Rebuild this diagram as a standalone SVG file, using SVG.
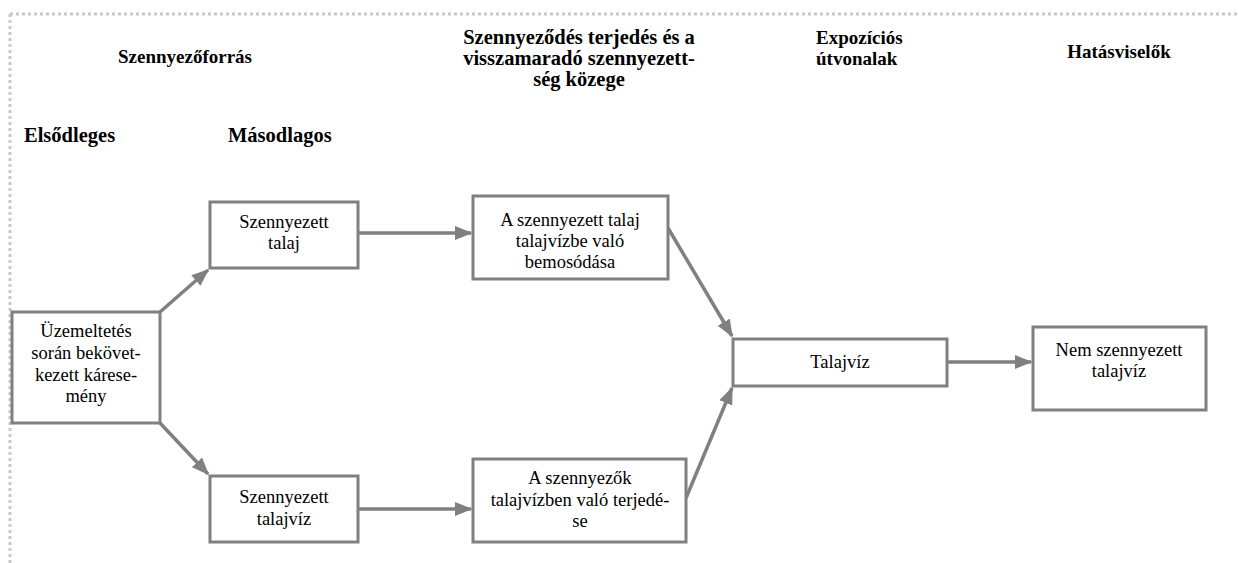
<svg xmlns="http://www.w3.org/2000/svg" width="1239" height="563" viewBox="0 0 1239 563">
<style>
text{font-family:'Liberation Serif','Times New Roman',Times,'DejaVu Serif',serif}
.h{font-size:19px;font-weight:bold;fill:#000}
.hl{font-size:20.5px}
.t{font-size:18.5px;fill:#000;text-anchor:middle}
.box{fill:#fff;stroke:#808080;stroke-width:3}
.c{stroke:#808080;stroke-width:3.5;fill:none}
</style>
<defs>
<marker id="ah" markerWidth="5" markerHeight="4" refX="4.6" refY="2" orient="auto" markerUnits="strokeWidth">
<path d="M0,0 L5,2 L0,4 Z" fill="#808080"/>
</marker>
</defs>
<rect width="1239" height="563" fill="#fff"/>
<path d="M10,14 H1239 M10,14 V563" stroke="#c8c8c8" stroke-width="3" stroke-dasharray="3,3" fill="none"/>
<g id="headers">
<text class="h" x="185" y="63" text-anchor="middle">Szennyezőforrás</text>
<text class="h hl" x="579" y="44" text-anchor="middle">Szennyeződés terjedés és a</text>
<text class="h hl" x="579" y="65" text-anchor="middle">visszamaradó szennyezett-</text>
<text class="h hl" x="579" y="86" text-anchor="middle">ség közege</text>
<text class="h" x="816" y="44">Expozíciós</text>
<text class="h" x="816" y="65">útvonalak</text>
<text class="h" x="1119" y="58" text-anchor="middle">Hatásviselők</text>
<text class="h hl" x="24" y="142">Elsődleges</text>
<text class="h hl" x="228" y="142">Másodlagos</text>
</g>
<g id="connectors">
<line class="c" x1="160" y1="312" x2="208" y2="270" marker-end="url(#ah)"/>
<line class="c" x1="160" y1="423" x2="208" y2="474" marker-end="url(#ah)"/>
<line class="c" x1="358" y1="233" x2="471" y2="233" marker-end="url(#ah)"/>
<line class="c" x1="358" y1="509" x2="471" y2="509" marker-end="url(#ah)"/>
<line class="c" x1="668" y1="228" x2="732" y2="336" marker-end="url(#ah)"/>
<line class="c" x1="686" y1="498" x2="732" y2="388" marker-end="url(#ah)"/>
<line class="c" x1="947" y1="362" x2="1031" y2="362" marker-end="url(#ah)"/>
</g>
<g id="n1">
<rect class="box" x="12" y="312" width="148" height="111"/>
<text class="t" x="86" y="337">Üzemeltetés</text>
<text class="t" x="86" y="359">során bekövet-</text>
<text class="t" x="86" y="381">kezett kárese-</text>
<text class="t" x="86" y="402">mény</text>
</g>
<g id="n2">
<rect class="box" x="210" y="202" width="148" height="66"/>
<text class="t" x="284" y="228">Szennyezett</text>
<text class="t" x="284" y="249">talaj</text>
</g>
<g id="n3">
<rect class="box" x="210" y="476" width="148" height="66"/>
<text class="t" x="284" y="503">Szennyezett</text>
<text class="t" x="284" y="525">talajvíz</text>
</g>
<g id="n4">
<rect class="box" x="473" y="196" width="195" height="83"/>
<text class="t" x="570" y="226">A szennyezett talaj</text>
<text class="t" x="570" y="247">talajvízbe való</text>
<text class="t" x="570" y="268">bemosódása</text>
</g>
<g id="n5">
<rect class="box" x="473" y="459" width="213" height="83"/>
<text class="t" x="580" y="484">A szennyezők</text>
<text class="t" x="580" y="506">talajvízben való terjedé-</text>
<text class="t" x="580" y="527">se</text>
</g>
<g id="n6">
<rect class="box" x="733" y="339" width="214" height="47"/>
<text class="t" x="840" y="368">Talajvíz</text>
</g>
<g id="n7">
<rect class="box" x="1033" y="327" width="173" height="83"/>
<text class="t" x="1119" y="356">Nem szennyezett</text>
<text class="t" x="1119" y="377">talajvíz</text>
</g>
</svg>
